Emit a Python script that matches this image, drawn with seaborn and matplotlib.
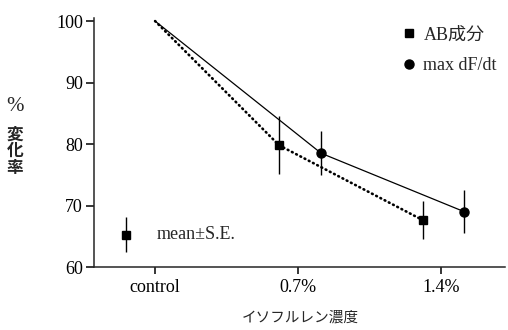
import matplotlib
matplotlib.use("Agg")
import matplotlib.pyplot as plt
import seaborn as sns
import pandas as pd
from matplotlib.lines import Line2D

# concentration axis
conc_ticks = [0.0, 0.7, 1.4]
conc_labels = ["control", "0.7%", "1.4%"]

# AB成分 (squares, dotted line) -- first point is the control reference (100%)
ab_x = [0.0, 0.607, 1.312]
ab_y = [100.0, 79.8, 67.6]
ab_err = [0.0, 4.7, 3.1]

# max dF/dt (circles, solid line)
dfdt_x = [0.0, 0.813, 1.513]
dfdt_y = [100.0, 78.5, 69.0]
dfdt_err = [0.0, 3.6, 3.5]

# mean ± S.E. key marker
key_x = [-0.142]
key_y = [65.25]
key_err = [2.85]

sns.set_style("ticks")
plt.rcParams["font.family"] = ["Liberation Serif", "Noto Sans CJK JP"]
plt.rcParams["axes.linewidth"] = 1.1

fig = plt.figure(figsize=(5.08, 3.30), dpi=100)
ax = fig.add_axes([94 / 508, 1 - 267 / 330, 411 / 508, 249 / 330])

ab = pd.DataFrame({"x": ab_x, "y": ab_y})
dfdt = pd.DataFrame({"x": dfdt_x, "y": dfdt_y})
sns.lineplot(data=dfdt, x="x", y="y", ax=ax, color="black", lw=0.9, sort=False)
sns.lineplot(data=ab, x="x", y="y", ax=ax, color="black", lw=1.9,
             linestyle=(0, (0.3, 1.5)), dash_capstyle="round", sort=False)

ax.errorbar(ab_x[1:], ab_y[1:], yerr=ab_err[1:], fmt="s", color="black",
            ms=5.5, elinewidth=1.0, capsize=0, zorder=5)
ax.errorbar(dfdt_x[1:], dfdt_y[1:], yerr=dfdt_err[1:], fmt="o", color="black",
            ms=6.5, elinewidth=1.0, capsize=0, zorder=5)
ax.errorbar(key_x, key_y, yerr=key_err, fmt="s", color="black",
            ms=5.5, elinewidth=1.0, capsize=0, zorder=5)
ax.text(0.01, key_y[0], "mean\u00b1S.E.", fontsize=13, va="center", ha="left")

ax.set_xlim(-0.299, 1.713)
ax.set_ylim(60, 100.5)
ax.set_xticks(conc_ticks)
ax.set_xticklabels(conc_labels)
ax.set_yticks([60, 70, 80, 90, 100])
ax.tick_params(axis="both", labelsize=13, colors="black", width=1.1)
ax.tick_params(axis="y", length=6, pad=2)
ax.tick_params(axis="x", length=5, pad=4)
ax.set_xlabel("")
ax.set_ylabel("")
sns.despine(ax=ax)

handles = [
    Line2D([], [], marker="s", ls="none", color="black", ms=5.5),
    Line2D([], [], marker="o", ls="none", color="black", ms=6.5),
]
ax.legend(handles, ["AB成分", "max dF/dt"], loc="upper right",
          bbox_to_anchor=(1.02, 1.03), frameon=False, fontsize=13,
          labelspacing=0.75, handletextpad=0.3, handlelength=1.0)

fig.text(15 / 508, 1 - 106 / 330, "%", fontsize=15, ha="center", va="center")
fig.text(15 / 508, 1 - 152 / 330, "変\n化\n率", fontsize=12,
         ha="center", va="center", linespacing=1.05, weight="bold")
fig.text(300 / 508, 1 - 318 / 330, "イソフルレン濃度", fontsize=10.5,
         ha="center", va="center")

fig.savefig("out.png", dpi=100)
